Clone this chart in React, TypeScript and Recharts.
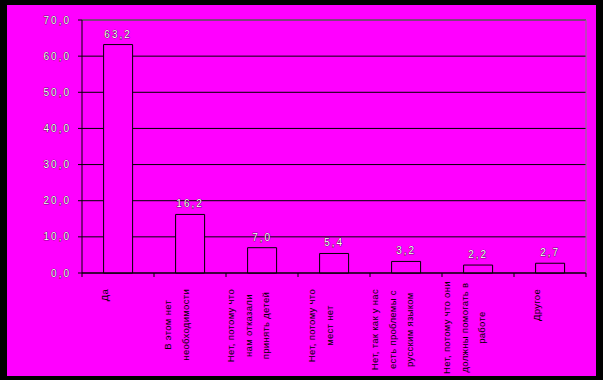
import React from 'react';
import {
  BarChart,
  Bar,
  XAxis,
  YAxis,
  CartesianGrid,
  LabelList,
  ReferenceLine
} from 'recharts';

// answer categories (line breaks = wrapped axis label lines)
const categories = [
  'Да',
  'В этом нет\nнеобходимости',
  'Нет, потому что\nнам отказали\nпринять детей',
  'Нет, потому что\nмест нет',
  'Нет, так как у нас\nесть проблемы с\nрусским языком',
  'Нет, потому что они\nдолжны помогать в\nработе',
  'Другое'
];

const values = [63.2, 16.2, 7.0, 5.4, 3.2, 2.2, 2.7];

const yTicks = [0, 10, 20, 30, 40, 50, 60, 70];

const data = categories.map((name, i) => ({ name, value: values[i] }));

const CHART_W = 589;
const CHART_H = 371;
const Y_AXIS_W = 75;
const MARGIN = { top: 15, right: 10, bottom: 0, left: 0 };
const BAND = (CHART_W - Y_AXIS_W - MARGIN.left - MARGIN.right) / categories.length;
const LABEL_FONT = 9.5;
const LABEL_SPACING = 0.3;
const LINE_GAP = 17.5;

const fmt = (v: number) => v.toFixed(1).replace('.', ',');

let ctx: CanvasRenderingContext2D | null = null;
function textWidth(s: string) {
  if (!ctx) ctx = document.createElement('canvas').getContext('2d');
  if (!ctx) return s.length * 5.5;
  ctx.font = `${LABEL_FONT}px "Liberation Sans"`;
  return ctx.measureText(s).width + s.length * LABEL_SPACING;
}

function CategoryTick(props: any) {
  const { x, y, payload, index } = props;
  const lines = String(payload.value).split('\n');
  const maxW = Math.max(...lines.map(textWidth));
  // block starts just under the axis, but never runs past the bottom edge
  const top = Math.min(y + 16, CHART_H - 2 - maxW);
  const cy = top + maxW / 2;
  const left = x - BAND / 2;
  return (
    <g>
      <line x1={left} y1={y} x2={left} y2={y + 4} stroke="#000" />
      {index === categories.length - 1 && (
        <line x1={x + BAND / 2} y1={y} x2={x + BAND / 2} y2={y + 4} stroke="#000" />
      )}
      {lines.map((ln, i) => {
        const bx = x - 10 + (i - (lines.length - 1) / 2) * LINE_GAP;
        return (
          <text
            key={i}
            x={bx}
            y={cy}
            transform={`rotate(-90, ${bx}, ${cy})`}
            textAnchor="middle"
            fontSize={LABEL_FONT}
            letterSpacing={LABEL_SPACING}
            fontFamily='"Liberation Sans", Arial, sans-serif'
            fill="#000"
          >
            {ln}
          </text>
        );
      })}
    </g>
  );
}

const numStyle = {
  fontSize: 10,
  fontFamily: '"Liberation Sans", Arial, sans-serif',
  letterSpacing: 2,
  fill: '#fff',
  stroke: '#000',
  strokeWidth: 0.6,
  paintOrder: 'stroke'
} as any;

export default function App() {
  return (
    <div style={{ position: 'absolute', left: 0, top: 0, width: 603, height: 380, background: '#000' }}>
      <div style={{ position: 'absolute', left: 7, top: 5, width: CHART_W, height: CHART_H, background: '#ff00ff' }}>
        <BarChart width={CHART_W} height={CHART_H} data={data} margin={MARGIN} barCategoryGap="30%">
          <CartesianGrid vertical={false} stroke="#000" strokeWidth={1} />
          <XAxis
            dataKey="name"
            interval={0}
            height={103}
            axisLine={{ stroke: '#000' }}
            tickLine={false}
            tickSize={0}
            tickMargin={0}
            tick={<CategoryTick />}
          />
          <YAxis
            width={Y_AXIS_W}
            domain={[0, 70]}
            ticks={yTicks}
            interval={0}
            tickFormatter={fmt}
            axisLine={{ stroke: '#000' }}
            tickLine={{ stroke: '#000' }}
            tickSize={4}
            tickMargin={7}
            tick={numStyle}
          />
          <ReferenceLine y={70} stroke="#808080" />
          <ReferenceLine x="Другое" position="end" stroke="#808080" />
          <Bar dataKey="value" fill="#ff00ff" stroke="#000" strokeWidth={1} isAnimationActive={false}>
            <LabelList dataKey="value" position="top" offset={7} formatter={(v: any) => fmt(Number(v))} style={numStyle} />
          </Bar>
        </BarChart>
      </div>
    </div>
  );
}
